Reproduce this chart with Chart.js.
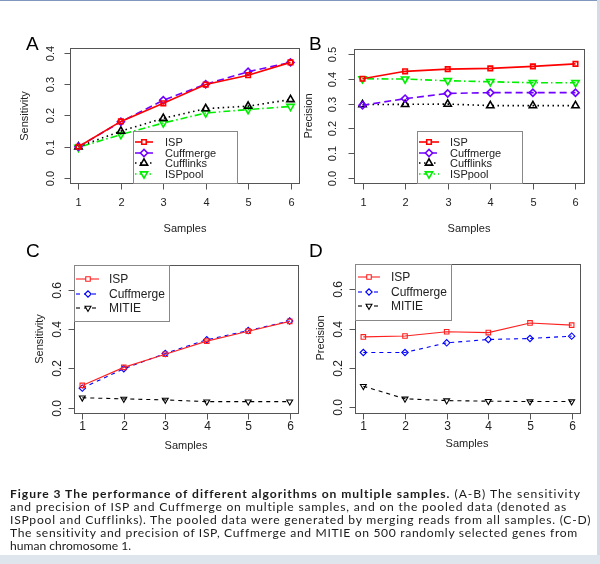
<!DOCTYPE html>
<html><head><meta charset="utf-8">
<script src="https://cdn.jsdelivr.net/npm/chart.js@4/dist/chart.umd.min.js"></script>
<style>
html,body{margin:0;padding:0;background:#fff;}
#page{position:relative;width:600px;height:564px;overflow:hidden;background:#fff;}
canvas{position:absolute;left:0;top:0;}
#topline{position:absolute;left:0;top:0;width:600px;height:1px;background:#7f98bd;}
#rband{position:absolute;left:597px;top:0;width:3px;height:564px;background:#d3dbe5;}
#bband{position:absolute;left:0;top:555px;width:600px;height:9px;background:#dfe5ec;}
#caption{position:absolute;left:10px;top:487px;font-family:Lato,"Liberation Sans",sans-serif;font-size:12.1px;line-height:13px;color:#1a1a1a;}
#caption div{white-space:nowrap;}
</style></head><body>
<div id="page">
<div id="topline"></div><div id="rband"></div><div id="bband"></div>
<canvas id="cA" width="600" height="564"></canvas>
<canvas id="cB" width="600" height="564"></canvas>
<canvas id="cC" width="600" height="564"></canvas>
<canvas id="cD" width="600" height="564"></canvas>
<div id="caption">
<div data-w="570"><b>Figure 3 The performance of different algorithms on multiple samples.</b> (A-B) The sensitivity</div>
<div data-w="556">and precision of ISP and Cuffmerge on multiple samples, and on the pooled data (denoted as</div>
<div data-w="580">ISPpool and Cufflinks). The pooled data were generated by merging reads from all samples. (C-D)</div>
<div data-w="567">The sensitivity and precision of ISP, Cuffmerge and MITIE on 500 randomly selected genes from</div>
<div>human chromosome 1.</div>
</div>
</div>
<script>
// ---- data ----
const samples = [1, 2, 3, 4, 5, 6];
const xTickLabels = ['1', '2', '3', '4', '5', '6'];

const aISP       = [0.100, 0.181, 0.239, 0.299, 0.329, 0.370];
const aCuffmerge = [0.100, 0.180, 0.249, 0.300, 0.340, 0.370];
const aCufflinks = [0.100, 0.150, 0.191, 0.222, 0.230, 0.251];
const aISPpool   = [0.098, 0.139, 0.176, 0.208, 0.219, 0.229];

const bISP       = [0.400, 0.430, 0.439, 0.442, 0.450, 0.460];
const bCuffmerge = [0.293, 0.320, 0.341, 0.344, 0.344, 0.344];
const bCufflinks = [0.296, 0.297, 0.298, 0.292, 0.292, 0.292];
const bISPpool   = [0.400, 0.399, 0.392, 0.388, 0.384, 0.384];

const cISP       = [0.113, 0.205, 0.272, 0.339, 0.390, 0.440];
const cCuffmerge = [0.099, 0.198, 0.276, 0.346, 0.393, 0.442];
const cMITIE     = [0.050, 0.044, 0.039, 0.030, 0.030, 0.030];

const dISP       = [0.358, 0.363, 0.384, 0.380, 0.429, 0.418];
const dCuffmerge = [0.279, 0.279, 0.328, 0.345, 0.350, 0.362];
const dMITIE     = [0.108, 0.044, 0.035, 0.032, 0.030, 0.030];

const yTicksA  = ['0.0', '0.1', '0.2', '0.3', '0.4'];
const yTicksB  = ['0.0', '0.1', '0.2', '0.3', '0.4', '0.5'];
const yTicksCD = ['0.0', '0.2', '0.4', '0.6'];

const namesAB = ['ISP', 'Cuffmerge', 'Cufflinks', 'ISPpool'];
const namesCD = ['ISP', 'Cuffmerge', 'MITIE'];

// ---- styles ----
const F = '"Liberation Sans", Arial, sans-serif';
function pts(vals){ return samples.map((s,i)=>({x:s, y:vals[i]})); }

function styleAB(name, vals){
  const st = {
    ISP:       {c:'#ff0000', dash:[],          ps:'rect',     rot:0,   r:3.2},
    Cuffmerge: {c:'#7000ff', dash:[7,4],       ps:'rectRot',  rot:0,   r:3.6},
    Cufflinks: {c:'#000000', dash:[1.5,3.5],   ps:'triangle', rot:0,   r:4.2},
    ISPpool:   {c:'#00ee00', dash:[1.5,3,7,3], ps:'triangle', rot:180, r:4.2}
  }[name];
  return {label:name, data:pts(vals), borderColor:st.c, borderWidth:1.6, borderDash:st.dash,
    pointStyle:st.ps, pointRotation:st.rot, pointRadius:st.r, pointBorderColor:st.c,
    pointBorderWidth:1.6, pointBackgroundColor:'rgba(255,255,255,0)', tension:0, fill:false};
}
function styleCD(name, vals){
  const st = {
    ISP:       {c:'#ff2020', dash:[],    ps:'rect',     rot:0,   r:3.2},
    Cuffmerge: {c:'#0000ff', dash:[4,4], ps:'rectRot',  rot:0,   r:3.2},
    MITIE:     {c:'#000000', dash:[4,4], ps:'triangle', rot:180, r:3.4}
  }[name];
  return {label:name, data:pts(vals), borderColor:st.c, borderWidth:1.1, borderDash:st.dash,
    pointStyle:st.ps, pointRotation:st.rot, pointRadius:st.r, pointBorderColor:st.c,
    pointBorderWidth:1.1, pointBackgroundColor:'rgba(255,255,255,0)', tension:0, fill:false};
}

// ---- frame plugin (R style box, axes, legend, titles) ----
const rFrame = {
  id:'rFrame',
  afterDatasetsDraw(chart, args, o){
    const ctx = chart.ctx, xs = chart.scales.x, ys = chart.scales.y, ca = chart.chartArea;
    ctx.save();
    // box
    ctx.strokeStyle = '#555'; ctx.lineWidth = 1; ctx.setLineDash([]);
    ctx.strokeRect(Math.round(ca.left)+0.5, Math.round(ca.top)+0.5,
                   Math.round(ca.right-ca.left), Math.round(ca.bottom-ca.top));
    // x ticks
    ctx.fillStyle = '#222'; ctx.font = o.tickFont + 'px ' + F;
    ctx.textAlign = 'center'; ctx.textBaseline = 'middle';
    const bx = Math.round(ca.bottom)+0.5;
    xTickLabels.forEach((lab,i)=>{
      const px = Math.round(xs.getPixelForValue(samples[i]))+0.5;
      ctx.beginPath(); ctx.moveTo(px, bx); ctx.lineTo(px, bx+6); ctx.stroke();
      ctx.fillText(lab, px, o.xLabY);
    });
    // y ticks (rotated labels)
    const lx = Math.round(ca.left)+0.5;
    o.yTicks.forEach(lab=>{
      const py = Math.round(ys.getPixelForValue(parseFloat(lab)))+0.5;
      ctx.beginPath(); ctx.moveTo(lx, py); ctx.lineTo(lx-6, py); ctx.stroke();
      ctx.save(); ctx.translate(o.yLabX, py); ctx.rotate(-Math.PI/2);
      ctx.fillText(lab, 0, 0); ctx.restore();
    });
    // axis titles
    ctx.font = '11px ' + F; ctx.fillStyle = '#222';
    ctx.fillText(o.xTitle, o.xTitlePos[0], o.xTitlePos[1]);
    ctx.save(); ctx.translate(o.yTitlePos[0], o.yTitlePos[1]); ctx.rotate(-Math.PI/2);
    ctx.fillText(o.yTitle, 0, 0); ctx.restore();
    // panel letter
    ctx.font = '19px ' + F; ctx.fillStyle = '#000'; ctx.textAlign='left';
    ctx.fillText(o.letter, o.letterPos[0], o.letterPos[1]);
    // legend
    const L = o.legend;
    ctx.strokeStyle = '#888'; ctx.lineWidth = 1;
    ctx.strokeRect(L.box[0]+0.5, L.box[1]+0.5, L.box[2]-L.box[0], L.box[3]-L.box[1]);
    ctx.font = L.font + 'px ' + F; ctx.textAlign='left'; ctx.textBaseline='middle';
    chart.data.datasets.forEach((ds,i)=>{
      const y = L.ys[i];
      ctx.save();
      ctx.strokeStyle = ds.borderColor; ctx.lineWidth = ds.borderWidth; ctx.setLineDash(ds.borderDash);
      ctx.beginPath(); ctx.moveTo(L.line[0], y); ctx.lineTo(L.line[1], y); ctx.stroke();
      ctx.setLineDash([]);
      // open marker: white interior, coloured outline
      ctx.fillStyle = '#ffffff';
      ctx.lineWidth = ds.pointBorderWidth;
      Chart.helpers.drawPoint(ctx, {pointStyle:ds.pointStyle, rotation:ds.pointRotation,
        radius:ds.pointRadius, borderWidth:ds.pointBorderWidth}, L.mark, y);
      ctx.restore();
      ctx.fillStyle = '#222';
      ctx.fillText(ds.label, L.text, y+0.5);
    });
    ctx.restore();
  }
};

function makePanel(id, box, xDom, yDom, datasets, frame){
  return new Chart(document.getElementById(id), {
    type:'line',
    data:{datasets},
    options:{
      responsive:false, animation:false, events:[],
      layout:{padding:{left:box[0], top:box[1], right:600-box[2], bottom:564-box[3]}},
      scales:{
        x:{type:'linear', min:xDom[0], max:xDom[1], display:false},
        y:{type:'linear', min:yDom[0], max:yDom[1], display:false}
      },
      plugins:{legend:{display:false}, tooltip:{enabled:false}, rFrame:frame}
    },
    plugins:[rFrame]
  });
}

// Panel A
makePanel('cA', [70, 48, 299, 183], [0.8, 6.2], [-0.016, 0.416],
  [styleAB('ISP',aISP), styleAB('Cuffmerge',aCuffmerge), styleAB('Cufflinks',aCufflinks), styleAB('ISPpool',aISPpool)],
  {tickFont:11, xLabY:203, yTicks:yTicksA, yLabX:51, xTitle:'Samples', xTitlePos:[185,229],
   yTitle:'Sensitivity', yTitlePos:[25,116], letter:'A', letterPos:[26,45],
   legend:{box:[133,131,237,183], ys:[142,153,163,174], line:[135,153], mark:144, text:165, font:11}});

// Panel B
makePanel('cB', [354, 49, 584, 183], [0.8, 6.2], [-0.02, 0.52],
  [styleAB('ISP',bISP), styleAB('Cuffmerge',bCuffmerge), styleAB('Cufflinks',bCufflinks), styleAB('ISPpool',bISPpool)],
  {tickFont:11, xLabY:203, yTicks:yTicksB, yLabX:333, xTitle:'Samples', xTitlePos:[469,229],
   yTitle:'Precision', yTitlePos:[309,116], letter:'B', letterPos:[309,45],
   legend:{box:[417,131,522,183], ys:[142,153,163,174], line:[419,439], mark:429, text:450, font:11}});

// Panel C
makePanel('cC', [74, 265, 298, 413], [0.8, 6.2], [-0.028, 0.728],
  [styleCD('ISP',cISP), styleCD('Cuffmerge',cCuffmerge), styleCD('MITIE',cMITIE)],
  {tickFont:12, xLabY:427, yTicks:yTicksCD, yLabX:58, xTitle:'Samples', xTitlePos:[186,446],
   yTitle:'Sensitivity', yTitlePos:[40,339], letter:'C', letterPos:[26,252],
   legend:{box:[74,265,169,321], ys:[279,294,308], line:[76,99], mark:88, text:109, font:12}});

// Panel D
makePanel('cD', [355, 264, 580, 413], [0.8, 6.2], [-0.028, 0.728],
  [styleCD('ISP',dISP), styleCD('Cuffmerge',dCuffmerge), styleCD('MITIE',dMITIE)],
  {tickFont:12, xLabY:427, yTicks:yTicksCD, yLabX:339, xTitle:'Samples', xTitlePos:[467,444],
   yTitle:'Precision', yTitlePos:[321,338], letter:'D', letterPos:[309,252],
   legend:{box:[355,264,451,320], ys:[277,292,306], line:[358,380], mark:369, text:391, font:12}});

// caption: fit lines to their measured widths in the reference
document.querySelectorAll('#caption div[data-w]').forEach(d=>{
  const target = parseFloat(d.dataset.w);
  const span = document.createElement('span'); span.innerHTML = d.innerHTML;
  d.innerHTML = ''; d.appendChild(span);
  const w = span.getBoundingClientRect().width;
  const n = span.textContent.length;
  if (n > 1) d.style.letterSpacing = ((target - w) / (n - 1)).toFixed(3) + 'px';
});
</script>
</body></html>
